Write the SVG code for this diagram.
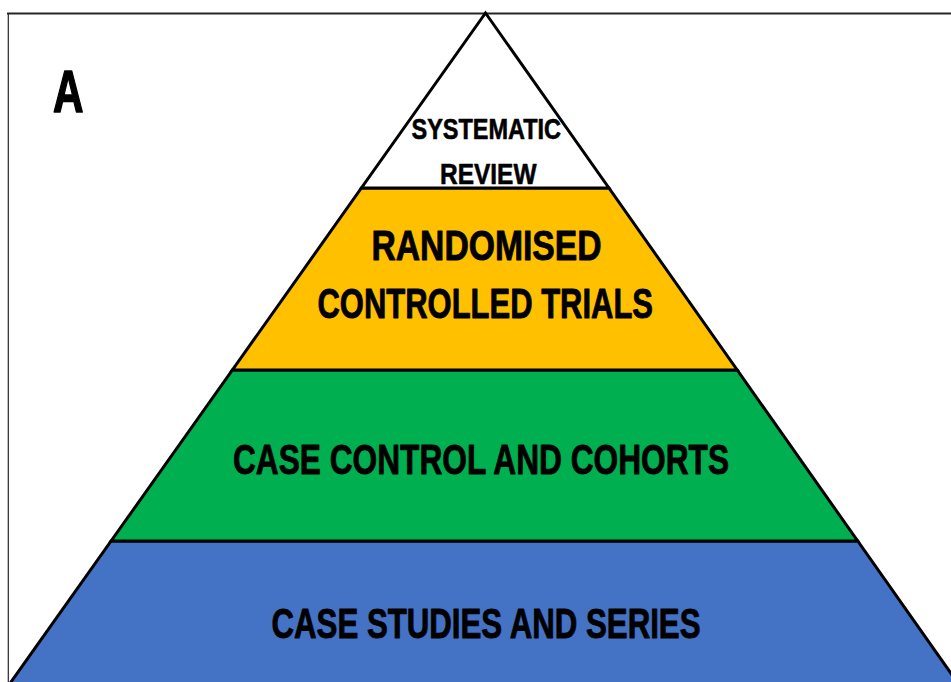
<svg xmlns="http://www.w3.org/2000/svg" width="951" height="682" viewBox="0 0 951 682">
  <style>
    .band { stroke: #000; stroke-width: 3; stroke-linejoin: miter; }
    .lbl { font-family: "Liberation Sans", Arial, sans-serif; font-weight: bold; fill: #000; stroke: #000; stroke-width: 0.9; stroke-linejoin: round; }
    .sm { stroke-width: 0.6; }
  </style>
  <rect x="0" y="0" width="951" height="682" fill="#fff"/>
  <g id="frame">
    <line x1="7" y1="13.5" x2="951" y2="13.5" stroke="#262626" stroke-width="2"/>
    <line x1="8.3" y1="13" x2="8.3" y2="682" stroke="#262626" stroke-width="1.2"/>
  </g>
  <g id="panel-label">
    <text class="lbl" x="53" y="112" font-size="59" textLength="30.5" lengthAdjust="spacingAndGlyphs" style="stroke-width:1.6">A</text>
  </g>
  <g id="level-case-studies">
    <polygon class="band" points="111.1,541 857.7,541 962,689 6,689" fill="#4472C4"/>
    <text class="lbl" x="271.5" y="637.5" font-size="42.5" textLength="429" lengthAdjust="spacingAndGlyphs">CASE STUDIES AND SERIES</text>
  </g>
  <g id="level-case-control">
    <polygon class="band" points="232.4,370 737.2,370 857.7,541 111.1,541" fill="#00B050"/>
    <text class="lbl" x="233" y="474" font-size="43" textLength="496" lengthAdjust="spacingAndGlyphs">CASE CONTROL AND COHORTS</text>
  </g>
  <g id="level-rct">
    <polygon class="band" points="361.4,188 608.9,188 737.2,370 232.4,370" fill="#FFC000"/>
    <text class="lbl" x="371.5" y="259.5" font-size="42.5" textLength="230" lengthAdjust="spacingAndGlyphs">RANDOMISED</text>
    <text class="lbl" x="317.5" y="318" font-size="42.5" textLength="335.5" lengthAdjust="spacingAndGlyphs">CONTROLLED TRIALS</text>
  </g>
  <g id="level-systematic-review">
    <polygon class="band" points="485.5,13 608.9,188 361.4,188" fill="#fff"/>
    <text class="lbl sm" x="411.5" y="138.5" font-size="29" textLength="149.5" lengthAdjust="spacingAndGlyphs">SYSTEMATIC</text>
    <text class="lbl sm" x="440" y="183.5" font-size="30" textLength="96.5" lengthAdjust="spacingAndGlyphs">REVIEW</text>
  </g>
  <g id="connectors"/>
</svg>
